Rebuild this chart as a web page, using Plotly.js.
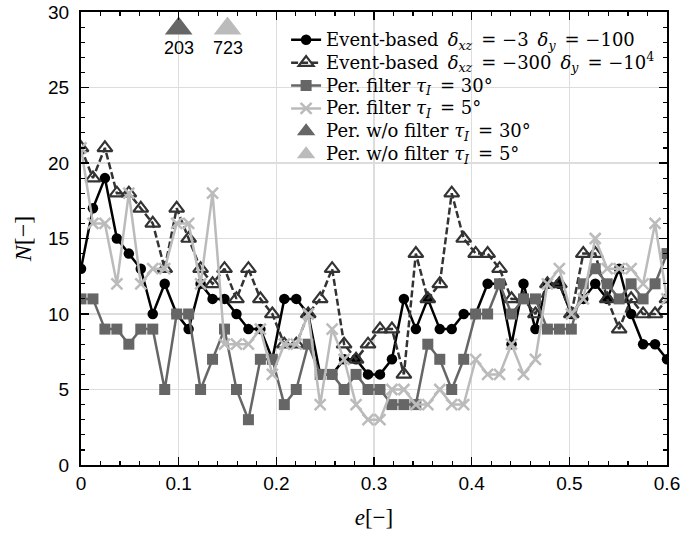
<!DOCTYPE html>
<html>
<head>
<meta charset="utf-8">
<script src="https://cdn.plot.ly/plotly-3.0.1.min.js"></script>
<style>html,body{margin:0;padding:0;background:#fff;}</style>
</head>
<body>
<div id="chart" style="width:684px;height:541px;"></div>
<script>
// e values: 50 evenly spaced samples from 0 to 0.6
const eValues = [0,0.01224,0.02449,0.03673,0.04898,0.06122,0.07347,0.08571,0.09796,0.1102,
 0.12245,0.13469,0.14694,0.15918,0.17143,0.18367,0.19592,0.20816,0.22041,0.23265,
 0.2449,0.25714,0.26939,0.28163,0.29388,0.30612,0.31837,0.33061,0.34286,0.3551,
 0.36735,0.37959,0.39184,0.40408,0.41633,0.42857,0.44082,0.45306,0.46531,0.47755,
 0.4898,0.50204,0.51429,0.52653,0.53878,0.55102,0.56327,0.57551,0.58776,0.6];

const eventBased3 = [13,17,19,15,14,13,10,12,10,9,
 12,11,11,10,9,9,7,11,11,10,
 6,6,7,7,6,6,7,11,9,11,
 9,9,10,10,12,12,8,12,9,12,
 12,10,11,12,11,13,10,8,8,7];

const eventBased300 = [21,19,21,18,18,17,16,13,17,15,
 13,12,13,11,13,11,10,8,8,10,
 11,13,8,7,8,9,9,6,14,11,
 12,18,15,14,14,13,11,11,10,12,
 12,10,14,14,11,9,11,10,10,11];

const perFilter30 = [11,11,9,9,8,9,9,5,10,10,
 5,7,9,5,3,7,7,4,5,8,
 6,6,5,6,5,5,4,4,4,8,
 7,5,7,10,10,12,10,11,11,9,
 9,9,12,13,12,11,12,11,12,14];

const perFilter5 = [21,16,16,12,18,12,13,13,16,16,
 12,18,8,8,8,9,6,8,8,10,
 4,9,7,4,3,3,5,5,4,4,
 5,4,4,7,6,6,8,6,7,12,
 13,10,11,15,13,13,13,12,16,11];

// Periodic without filter: off-scale values, drawn at the top edge with count labels
const noFilterE = [0.1, 0.15];
const noFilterShownAt = [28.9, 28.9];
const noFilterLabelAt = [27.6, 27.6];
const noFilterCounts = [203, 723];

const EM = '\u2003', EN = '\u2002', NB = '\u00a0';
const big = s => '<span style="font-size:18px">' + s + '</span>';
const names = [
  big('Event-based' + EN + '<i>δ</i><sub><i>xz</i></sub>' + EN + '=' + NB + '−3' + EN + '<i>δ</i><sub><i>y</i></sub>' + EN + '=' + NB + '−100'),
  big('Event-based' + EN + '<i>δ</i><sub><i>xz</i></sub>' + EN + '=' + NB + '−300' + EN + '<i>δ</i><sub><i>y</i></sub>' + EN + '=' + NB + '−10<sup>4</sup>'),
  big('Per. filter <i>τ</i><sub><i>I</i></sub>' + EN + '=' + NB + '30°'),
  big('Per. filter <i>τ</i><sub><i>I</i></sub>' + EN + '=' + NB + '5°'),
  big('Per. w/o filter <i>τ</i><sub><i>I</i></sub>' + EN + '=' + NB + '30°'),
  big('Per. w/o filter <i>τ</i><sub><i>I</i></sub>' + EN + '=' + NB + '5°')
];

const traces = [
  {x: eValues, y: eventBased3, name: names[0], mode: 'lines+markers',
   line: {color: '#000000', width: 2.5},
   marker: {symbol: 'circle', size: 10.5, color: '#000000'}},
  {x: eValues, y: eventBased300, name: names[1], mode: 'lines+markers',
   line: {color: '#333333', width: 2.5, dash: '7px,3px'},
   marker: {symbol: 'triangle-up-open', size: 13, color: '#333333', line: {color: '#333333', width: 2.2}}},
  {x: eValues, y: perFilter30, name: names[2], mode: 'lines+markers',
   line: {color: '#666666', width: 2.5},
   marker: {symbol: 'square', size: 11, color: '#666666'}},
  {x: eValues, y: perFilter5, name: names[3], mode: 'lines+markers',
   line: {color: '#bbbbbb', width: 2.5},
   marker: {symbol: 'x-thin-open', size: 11, color: '#bbbbbb', line: {color: '#bbbbbb', width: 2.5}}},
  {x: [noFilterE[0]], y: [noFilterShownAt[0]], name: names[4], mode: 'markers',
   marker: {symbol: 'triangle-up', size: 24, color: '#666666'}, cliponaxis: false},
  {x: [noFilterE[1]], y: [noFilterShownAt[1]], name: names[5], mode: 'markers',
   marker: {symbol: 'triangle-up', size: 24, color: '#bbbbbb'}, cliponaxis: false}
];

const annotations = noFilterE.map((e, i) => ({
  x: e, y: noFilterLabelAt[i], xref: 'x', yref: 'y', text: String(noFilterCounts[i]),
  showarrow: false, font: {family: 'Liberation Sans, Arial, sans-serif', size: 18, color: '#000'}
}));

const axisCommon = {
  showline: true, linecolor: '#000', linewidth: 2, mirror: 'allticks',
  ticks: 'inside', ticklen: 8, tickwidth: 1.5, tickcolor: '#000',
  showgrid: true, gridcolor: '#dddddd', gridwidth: 1.5, zeroline: false,
  tickfont: {family: 'Liberation Sans, Arial, sans-serif', size: 19, color: '#000'}
};

const layout = {
  width: 684, height: 541,
  margin: {l: 81, r: 17, t: 12, b: 76},
  paper_bgcolor: '#fff', plot_bgcolor: '#fff',
  showlegend: true,
  legend: {x: 0.35, y: 0.975, xanchor: 'left', yanchor: 'top', bgcolor: 'rgba(0,0,0,0)',
           font: {family: 'DejaVu Serif, serif', size: 15.3, color: '#000'},
           tracegroupgap: 0},
  xaxis: Object.assign({}, axisCommon, {
    range: [0, 0.6], tickmode: 'linear', tick0: 0, dtick: 0.1,
    minor: {dtick: 0.02, ticks: 'inside', ticklen: 4, tickwidth: 1.2, tickcolor: '#000', showgrid: false},
    title: {text: '<i>e</i>[−]', font: {family: 'Liberation Serif, serif', size: 23, color: '#000'}, standoff: 16}
  }),
  yaxis: Object.assign({}, axisCommon, {
    range: [0, 30], tickmode: 'linear', tick0: 0, dtick: 5,
    minor: {dtick: 1, ticks: 'inside', ticklen: 4, tickwidth: 1.2, tickcolor: '#000', showgrid: false},
    ticklabelstandoff: 6,
    title: {text: '<i>N</i>[−]', font: {family: 'Liberation Serif, serif', size: 24, color: '#000'}, standoff: 10}
  }),
  annotations: annotations
};

Plotly.newPlot('chart', traces, layout, {displayModeBar: false, staticPlot: true});
</script>
</body>
</html>
